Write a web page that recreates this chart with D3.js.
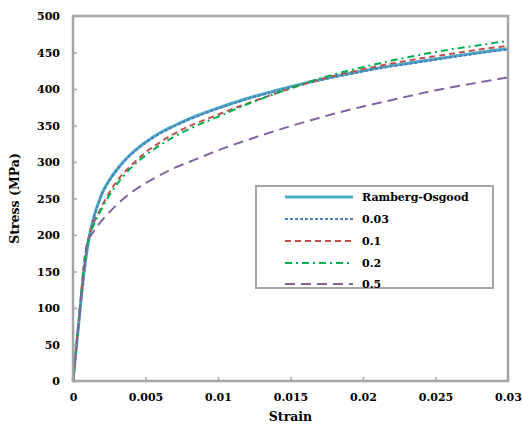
<!DOCTYPE html>
<html>
<head>
<meta charset="utf-8">
<script src="https://cdn.jsdelivr.net/npm/d3@7/dist/d3.min.js"></script>
<style>
  html, body { margin: 0; padding: 0; background: #fff; }
  svg text { font-family: "DejaVu Serif", serif; font-weight: bold; fill: #000; }
</style>
</head>
<body>
<svg id="chart" width="522" height="432"></svg>
<script>
// Strain sampling points shared by all series
const strain = [0, 0.00025, 0.0005, 0.00075, 0.001, 0.00125, 0.0015, 0.00175, 0.002,
  0.0025, 0.003, 0.0035, 0.004, 0.005, 0.006, 0.007, 0.008, 0.009, 0.01,
  0.012, 0.014, 0.016, 0.018, 0.02, 0.022, 0.024, 0.026, 0.028, 0.03];

// Stress (MPa) for each curve at the strain points above
const rambergOsgood = [0, 50, 100, 147, 183, 210, 229, 244, 257,
  275, 289, 301, 311, 327, 340, 350, 359, 367, 374,
  387, 398, 408, 417, 425, 432, 438, 444, 450, 455];
const s003 = [0, 50, 100, 148, 184, 209, 228, 243, 256,
  274, 288, 300, 310, 326, 339, 349, 358, 366, 373,
  386, 397, 407, 416, 424, 431, 437, 443, 449, 454];
const s01 = [0, 52, 106, 160, 190, 208, 220, 230, 240,
  258, 273, 285, 295, 313, 327, 339, 349, 357, 365,
  380, 394, 407, 418, 427, 435, 442, 448, 454, 459];
const s02 = [0, 52, 106, 158, 188, 205, 217, 227, 237,
  254, 269, 281, 292, 309, 323, 335, 345, 354, 362,
  379, 394, 408, 420, 430, 439, 447, 454, 460, 466];
const s05 = [0, 50, 100, 148, 192, 200, 207, 214, 220,
  231, 241, 250, 258, 271, 282, 292, 300, 308, 316,
  330, 343, 355, 366, 376, 385, 394, 402, 409, 416];

const xTicks = [0, 0.005, 0.01, 0.015, 0.02, 0.025, 0.03];
const xTickLabels = ["0", "0.005", "0.01", "0.015", "0.02", "0.025", "0.03"];
const yTicks = [0, 50, 100, 150, 200, 250, 300, 350, 400, 450, 500];

const seriesNames = ["Ramberg-Osgood", "0.03", "0.1", "0.2", "0.5"];
const seriesValues = [rambergOsgood, s003, s01, s02, s05];
const seriesStyle = [
  { color: "#4BACC6", width: 3,   dash: null },
  { color: "#4F81BD", width: 2,   dash: "3,2" },
  { color: "#C0504D", width: 2,   dash: "6,4" },
  { color: "#00B050", width: 2,   dash: "7,4,2,4" },
  { color: "#8064A2", width: 2,   dash: "10,6" }
];

const svg = d3.select("#chart");
const plot = { left: 73, right: 508, top: 16, bottom: 381 };

const x = d3.scaleLinear().domain([0, 0.03]).range([plot.left, plot.right]);
const y = d3.scaleLinear().domain([0, 500]).range([plot.bottom, plot.top]);

const frameColor = "#A5A5A5";

// Curves
const line = d3.line()
  .x(d => x(d[0]))
  .y(d => y(d[1]))
  .curve(d3.curveMonotoneX);

const curves = svg.append("g");
seriesValues.forEach((vals, i) => {
  const st = seriesStyle[i];
  curves.append("path")
    .datum(strain.map((s, j) => [s, vals[j]]))
    .attr("d", line)
    .attr("fill", "none")
    .attr("stroke", st.color)
    .attr("stroke-width", st.width)
    .attr("stroke-dasharray", st.dash);
});

// Plot frame
svg.append("rect")
  .attr("x", plot.left).attr("y", plot.top)
  .attr("width", plot.right - plot.left).attr("height", plot.bottom - plot.top)
  .attr("fill", "none").attr("stroke", frameColor).attr("stroke-width", 2.5);

// X axis: inward ticks and labels
const xAxis = d3.axisBottom(x)
  .tickValues(xTicks)
  .tickFormat((d, i) => xTickLabels[i])
  .tickSizeInner(-4).tickSizeOuter(0).tickPadding(12);
const gx = svg.append("g").attr("transform", `translate(0,${plot.bottom})`).call(xAxis);
gx.select(".domain").remove();
gx.selectAll(".tick line").attr("stroke", frameColor).attr("stroke-width", 1.5);
gx.selectAll(".tick text").style("font-size", "11px");

// Y axis: inward ticks and labels
const yAxis = d3.axisLeft(y)
  .tickValues(yTicks)
  .tickSizeInner(-4).tickSizeOuter(0).tickPadding(13);
const gy = svg.append("g").attr("transform", `translate(${plot.left},0)`).call(yAxis);
gy.select(".domain").remove();
gy.selectAll(".tick line").attr("stroke", frameColor).attr("stroke-width", 1.5);
gy.selectAll(".tick text").style("font-size", "11px");

// Axis titles
svg.append("text")
  .attr("x", (plot.left + plot.right) / 2).attr("y", 421)
  .attr("text-anchor", "middle").style("font-size", "12.5px")
  .text("Strain");
svg.append("text")
  .attr("transform", `translate(19,${(plot.top + plot.bottom) / 2}) rotate(-90)`)
  .attr("text-anchor", "middle").style("font-size", "12.5px")
  .text("Stress (MPa)");

// Legend
const legend = svg.append("g");
legend.append("rect")
  .attr("x", 256).attr("y", 186).attr("width", 237).attr("height", 102)
  .attr("fill", "#fff").attr("stroke", frameColor).attr("stroke-width", 2);
const rowY = [197, 219, 241, 263, 284];
seriesNames.forEach((name, i) => {
  const st = seriesStyle[i];
  legend.append("line")
    .attr("x1", 285).attr("x2", 353)
    .attr("y1", rowY[i]).attr("y2", rowY[i])
    .attr("stroke", st.color).attr("stroke-width", st.width)
    .attr("stroke-dasharray", st.dash);
  legend.append("text")
    .attr("x", 362).attr("y", rowY[i]).attr("dy", "0.36em")
    .style("font-size", "11px")
    .text(name);
});
</script>
</body>
</html>
